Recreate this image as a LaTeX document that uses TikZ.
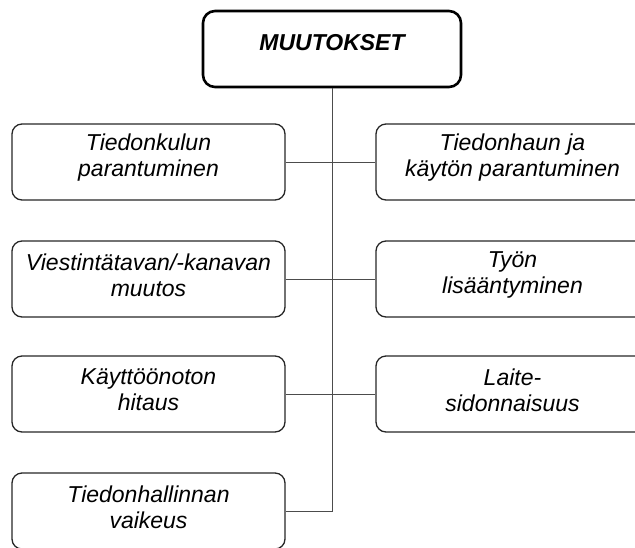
\documentclass[tikz,border=0pt]{standalone}
\usepackage{fontspec}
\setmainfont{Liberation Sans}
\begin{document}
\begin{tikzpicture}[x=1pt,y=-1pt,
  box/.style={draw=black!85, line width=1.3pt, rounded corners=10pt,
    minimum width=273pt, minimum height=76pt, inner sep=0pt},
  headbox/.style={draw=black, line width=2.6pt, rounded corners=12pt,
    minimum width=258pt, minimum height=76pt, inner sep=0pt},
  txt/.style={align=center, font=\fontsize{23}{26}\selectfont\itshape, yshift=4pt},
  headtxt/.style={font=\fontsize{23}{26}\selectfont\bfseries\itshape, yshift=6.5pt},
  link/.style={draw=black!70, line width=0.8pt}]
\clip (0,0) rectangle (635,547);
\useasboundingbox (0,0) rectangle (635,547);

% heading box
\node[headbox, label={[headtxt, name=headlbl]center:MUUTOKSET}] (head) at (332,49) {};

% left column
\node[box, label={[txt, name=l1t]center:{Tiedonkulun\\parantuminen}}] (L1) at (148.5,162) {};
\node[box, label={[txt, name=l2t]center:{Viestintätavan/-kanavan\\muutos}}] (L2) at (148.5,279) {};
\node[box, label={[txt, name=l3t]center:{Käyttöönoton\\hitaus}}] (L3) at (148.5,394) {};
\node[box, label={[txt, name=l4t]center:{Tiedonhallinnan\\vaikeus}}] (L4) at (148.5,511) {};

% right column (runs past the right edge)
\node[box, label={[txt, name=r1t]center:{Tiedonhaun ja\\käytön parantuminen}}] (R1) at (512.5,162) {};
\node[box, label={[txt, name=r2t]center:{Työn\\lisääntyminen}}] (R2) at (512.5,279) {};
\node[box, label={[txt, name=r3t]center:{Laite-\\sidonnaisuus}}] (R3) at (512.5,394) {};

% trunk and branches
\coordinate (trunkend) at (head.south |- L4.east);
\draw[link] (head.south) -- (trunkend) -- (L4.east);
\draw[link] (L1.east) -- (R1.west);
\draw[link] (L2.east) -- (R2.west);
\draw[link] (L3.east) -- (R3.west);
\end{tikzpicture}
\end{document}
